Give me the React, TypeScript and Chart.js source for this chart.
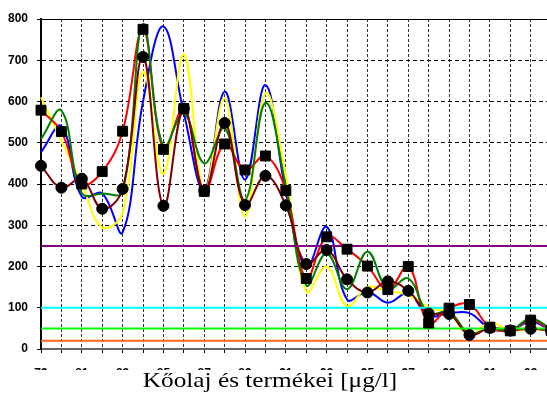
import React, { useEffect, useRef } from "react";
import { Chart, registerables } from "chart.js";

Chart.register(...registerables);

// Years (categories); 2004 lies just beyond the visible right edge
const years = [
  1979, 1980, 1981, 1982, 1983, 1984, 1985, 1986, 1987, 1988, 1989, 1990, 1991,
  1992, 1993, 1994, 1995, 1996, 1997, 1998, 1999, 2000, 2001, 2002, 2003, 2004,
];

// Series values (µg/l)
const redSquares = [
  579, 527, 400, 430, 528, 775, 484, 583, 382, 497, 434, 468, 384, 171, 272, 242,
  201, 144, 200, 63, 99, 108, 53, 44, 70, 45,
];
const maroonCircles = [
  444, 391, 413, 340, 388, 708, 347, 583, 384, 548, 349, 420, 348, 206, 240, 169,
  137, 164, 141, 86, 85, 34, 51, 45, 49, 45,
];
const blueSeries = [
  477, 540, 369, 377, 283, 600, 782, 572, 385, 624, 411, 640, 380, 198, 296, 120,
  139, 112, 135, 80, 87, 87, 50, 45, 66, 45,
];
const greenSeries = [
  509, 578, 378, 377, 381, 788, 490, 571, 450, 535, 361, 597, 395, 155, 232, 145,
  236, 145, 171, 86, 90, 38, 50, 45, 74, 48,
];
const yellowSeries = [
  610, 505, 400, 295, 330, 672, 424, 714, 383, 608, 321, 620, 420, 139, 200, 104,
  150, 140, 131, 101, 86, 34, 64, 45, 48, 45,
];

// Limit (reference) lines
const limitPurple = 250;
const limitCyan = 100;
const limitLime = 50;
const limitOrange = 20;

// Axis
const yTicks = [0, 100, 200, 300, 400, 500, 600, 700, 800];
const xMin = 1979;
const xMax = 2003.8;
const titleText = "Kőolaj és termékei [μg/l]";

export default function App() {
  const ref = useRef<HTMLCanvasElement | null>(null);

  useEffect(() => {
    if (!ref.current) return;
    const pts = (vals: number[]) => vals.map((v, i) => ({ x: years[i], y: v }));
    const limit = (v: number) => [
      { x: years[0], y: v },
      { x: years[years.length - 1], y: v },
    ];
    const lineDs = (label: string, vals: number[], color: string) => ({
      label,
      data: pts(vals),
      borderColor: color,
      backgroundColor: color,
      borderWidth: 2,
      pointRadius: 0,
      tension: 0.4,
      fill: false,
      clip: false as const,
    });
    const limitDs = (label: string, v: number, color: string) => ({
      label,
      data: limit(v),
      borderColor: color,
      backgroundColor: color,
      borderWidth: 2,
      pointRadius: 0,
      tension: 0,
      fill: false,
    });

    const chart = new Chart(ref.current, {
      type: "line",
      data: {
        datasets: [
          {
            label: "markers-sq",
            data: pts(redSquares),
            showLine: false,
            pointStyle: "rect",
            pointRadius: 7,
            pointBackgroundColor: "#000",
            pointBorderColor: "#000",
            pointBorderWidth: 1,
            clip: false,
          },
          {
            label: "markers-ci",
            data: pts(maroonCircles),
            showLine: false,
            pointStyle: "circle",
            pointRadius: 5.5,
            pointBackgroundColor: "#000",
            pointBorderColor: "#000",
            pointBorderWidth: 1,
            clip: false,
          },
          limitDs("orange", limitOrange, "#FF6A1A"),
          limitDs("lime", limitLime, "#00FF00"),
          limitDs("cyan", limitCyan, "#00FFFF"),
          limitDs("purple", limitPurple, "#800080"),
          lineDs("maroon", maroonCircles, "#800000"),
          lineDs("green", greenSeries, "#008000"),
          lineDs("red", redSquares, "#FF0000"),
          lineDs("yellow", yellowSeries, "#FFFF00"),
          lineDs("blue", blueSeries, "#0000FF"),
        ] as any,
      },
      options: {
        responsive: false,
        animation: false,
        layout: { autoPadding: false, padding: { top: 19, left: 0, right: 0, bottom: 0 } },
        plugins: {
          legend: { display: false },
          tooltip: { enabled: false },
          title: { display: false },
        },
        scales: {
          x: {
            type: "linear",
            min: xMin,
            max: xMax,
            afterBuildTicks: (s: any) => {
              s.ticks = years.filter((y) => y <= xMax).map((v) => ({ value: v }));
            },
            afterFit: (s: any) => {
              s.height = 21;
              s.paddingLeft = 0;
              s.paddingRight = 0;
            },
            ticks: {
              autoSkip: false,
              maxRotation: 0,
              minRotation: 0,
              padding: 13,
              color: "#000",
              font: { family: "'Liberation Sans', Arial, sans-serif", size: 12, weight: "bold" },
              callback: (v: any) =>
                Number(v) % 2 === 1 ? String(Number(v) % 100).padStart(2, "0") : "",
            },
            grid: {
              color: "#333",
              lineWidth: 1,
              drawTicks: true,
              tickLength: 4,
              tickColor: "#000",
              tickWidth: 1,
            },
            border: { display: true, color: "#666", width: 2, dash: [3, 2] },
          },
          y: {
            type: "linear",
            min: 0,
            max: 800,
            afterBuildTicks: (s: any) => {
              s.ticks = yTicks.map((v) => ({ value: v }));
            },
            afterFit: (s: any) => {
              s.width = 41;
            },
            ticks: {
              padding: 9,
              color: "#000",
              font: { family: "'Liberation Sans', Arial, sans-serif", size: 12, weight: "bold" },
            },
            grid: {
              color: "#000",
              lineWidth: 1,
              drawTicks: true,
              tickLength: 4,
              tickColor: "#000",
              tickWidth: 1,
            },
            border: {
              display: true,
              color: "#000",
              width: 2,
              dash: (ctx: any) => (ctx.tick && ctx.tick.value === 800 ? [] : [4, 3]),
            },
          },
        },
      } as any,
    });
    return () => chart.destroy();
  }, []);

  return (
    <div
      style={{
        position: "absolute",
        left: 0,
        top: 0,
        width: 547,
        height: 401,
        overflow: "hidden",
        background: "#fff",
      }}
    >
      <canvas ref={ref} width={547} height={370} style={{ display: "block" }} />
      <div
        style={{
          position: "absolute",
          left: 0,
          top: 370,
          width: 540,
          textAlign: "center",
          fontFamily: "'Liberation Serif', 'Times New Roman', serif",
          fontSize: 22,
          lineHeight: "20px",
          color: "#000",
          whiteSpace: "nowrap",
          transform: "scaleX(1.15)",
          transformOrigin: "270px 0",
        }}
      >
        {titleText}
      </div>
    </div>
  );
}
